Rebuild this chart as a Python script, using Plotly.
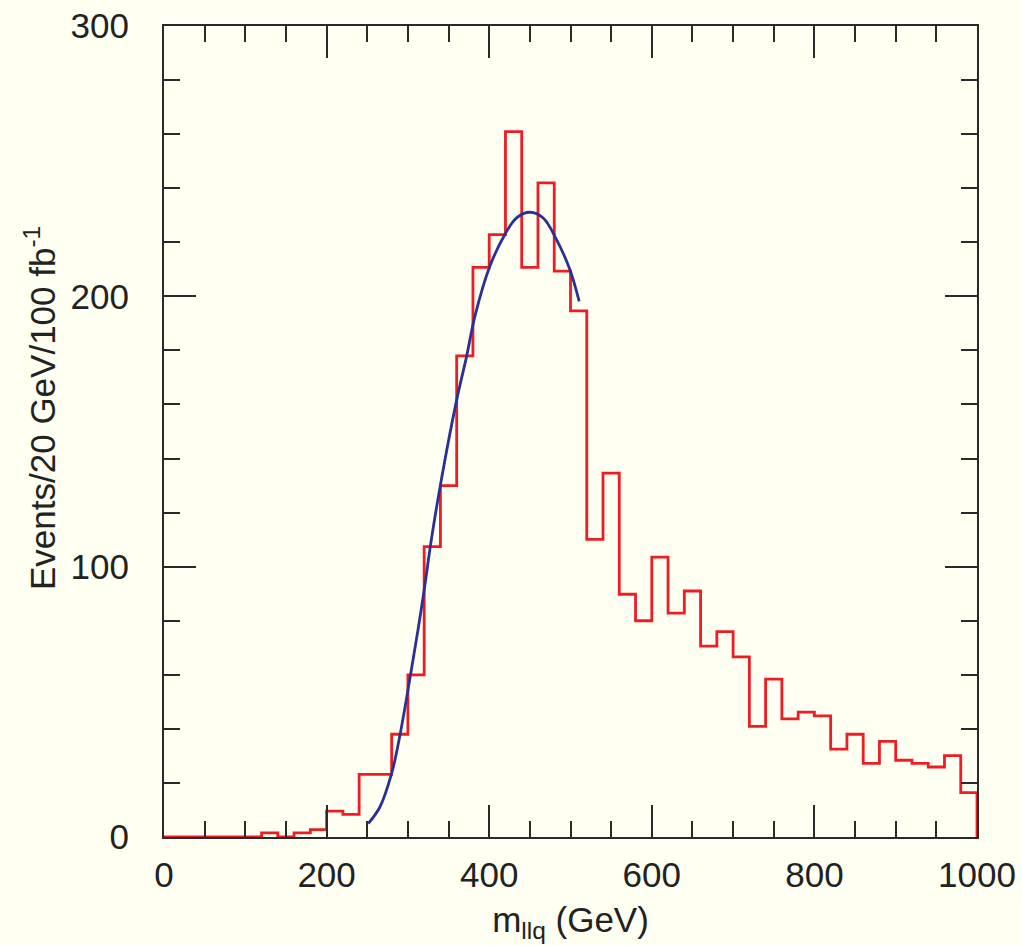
import plotly.graph_objects as go

# Histogram: 20 GeV bins from 0 to 1000 GeV
bin_width = 20
bin_low_edges = list(range(0, 1000, 20))
counts = [
    0, 0, 0, 0, 0, 0, 1.5, 0, 1.5, 2.7,        # 0-200
    9.6, 8.4, 23.2, 23.2, 38, 60, 107.4, 130, 178, 210.7,   # 200-400
    222.8, 260.9, 210.7, 242, 209.3, 194.6, 110.1, 134.6, 89.8, 80,  # 400-600
    103.5, 82.8, 91, 70.6, 76, 66.6, 40.9, 58.4, 43.7, 46.2,  # 600-800
    44.8, 32.5, 38, 27.2, 35.4, 28.4, 27.2, 25.9, 30.1, 16.4,  # 800-1000
]

# Fit curve points
fit_x = [251.3, 265.6, 280, 289.8, 302.1, 312.4, 320.6, 328.8, 341.1, 360, 372.2,
         382.4, 400.8, 419.3, 433.7, 450, 466.4, 482.8, 499.2, 510.7]
fit_y = [5.0, 11.1, 23.5, 37, 58, 76.6, 92.6, 109.9, 132.1, 161.7, 177.8,
         192.6, 211.1, 222.9, 229, 231.1, 229, 221, 209.9, 198.1]

x_range = [0, 1000]
y_range = [0, 300]

x_title = "m<sub>llq</sub> (GeV)"
y_title = "Events/20 GeV/100 fb<sup>-1</sup>"

hist_x = bin_low_edges + [bin_low_edges[-1] + bin_width, bin_low_edges[-1] + bin_width]
hist_y = counts + [counts[-1], 0]

BG = "#FFFFF2"
AX = "#2a2a2a"
TXT = "#222222"
FONT = "Liberation Sans, Arial, Helvetica, sans-serif"

fig = go.Figure()
fig.add_trace(go.Scatter(x=hist_x, y=hist_y, mode="lines", line=dict(shape="hv", color="#EE1C25", width=2.8),
                         showlegend=False, hoverinfo="skip"))
fig.add_trace(go.Scatter(x=fit_x, y=fit_y, mode="lines", line=dict(shape="spline", color="#2B3192", width=2.8),
                         showlegend=False, hoverinfo="skip"))

common = dict(showline=True, linecolor=AX, linewidth=2, mirror="allticks", ticks="inside",
              tickcolor=AX, tickwidth=2, ticklen=32, showgrid=False, zeroline=False, automargin=False,
              tickfont=dict(family=FONT, size=35, color=TXT))

fig.update_xaxes(range=x_range, tickmode="linear", tick0=0, dtick=200,
                 minor=dict(ticks="inside", tick0=0, dtick=50, ticklen=16, tickwidth=2, tickcolor=AX, showgrid=False),
                 title=dict(text=x_title, font=dict(family=FONT, size=35, color=TXT), standoff=14),
                 ticklabelstandoff=6,
                 **common)
fig.update_yaxes(range=y_range, tickmode="linear", tick0=0, dtick=100,
                 minor=dict(ticks="inside", tick0=0, dtick=20, ticklen=16, tickwidth=2, tickcolor=AX, showgrid=False),
                 ticklabelstandoff=26,
                 **common)

fig.add_annotation(text=y_title, xref="paper", yref="paper", x=-0.1525, y=0.529,
                   xanchor="center", yanchor="middle", textangle=-90, showarrow=False,
                   font=dict(family=FONT, size=35, color=TXT))

fig.update_layout(width=1022, height=945, paper_bgcolor=BG, plot_bgcolor=BG,
                  margin=dict(l=164, r=45, t=26, b=108), showlegend=False)

fig.write_html("out.html")
